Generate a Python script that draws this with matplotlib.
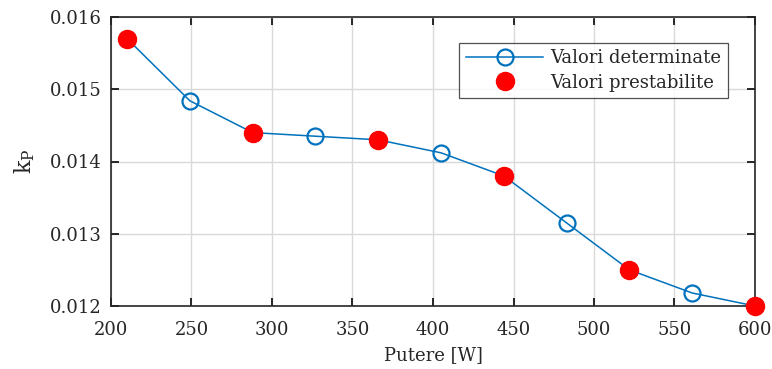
import matplotlib
matplotlib.use("Agg")
import matplotlib.pyplot as plt

# Power levels [W] and identified proportional gain
power = [210, 249, 288, 327, 366, 405, 444, 483, 522, 561, 600]
kp = [0.0157, 0.01484, 0.0144, 0.01435, 0.0143, 0.01412, 0.0138,
      0.01315, 0.0125, 0.01218, 0.0120]

# Preset operating points (subset of the curve)
preset_power = [210, 288, 366, 444, 522, 600]
preset_kp = [0.0157, 0.0144, 0.0143, 0.0138, 0.0125, 0.0120]

xticks = [200, 250, 300, 350, 400, 450, 500, 550, 600]
yticks = [0.012, 0.013, 0.014, 0.015, 0.016]

plt.rcParams['font.family'] = ['DejaVu Serif']
plt.rcParams['mathtext.fontset'] = 'dejavuserif'
txt = '#262626'

fig = plt.figure(figsize=(7.72, 3.69), dpi=100)
ax = fig.add_axes([111/772, 1 - 306/369, (755-111)/772, (306-17)/369])

ax.plot(power, kp, '-o', color='#0072BD', lw=1.1, ms=11.5,
        mfc='none', mec='#0072BD', mew=1.6, label='Valori determinate', zorder=3)
ax.plot(preset_power, preset_kp, 'o', ls='none', color='#FF0000', ms=13,
        mec='#FF0000', label='Valori prestabilite', zorder=4, clip_on=False)

ax.set_xlim(200, 600)
ax.set_ylim(0.012, 0.016)
ax.set_xticks(xticks)
ax.set_yticks(yticks)
ax.set_yticklabels([f'{v:.3f}' for v in yticks])
ax.grid(True, color='#d9d9d9', lw=1.0)
ax.set_axisbelow(True)
ax.tick_params(direction='in', top=True, right=True, length=6, width=1.4,
               labelsize=13, colors=txt, labelcolor=txt)
ax.tick_params(axis='y', pad=7)
ax.tick_params(axis='x', pad=11)
for s in ax.spines.values():
    s.set_color('#262626')
    s.set_linewidth(1.2)

ax.set_xlabel('Putere [W]', fontsize=13, color=txt, labelpad=5)
ax.set_ylabel(r'$\mathregular{k_P}$', fontsize=16, color=txt, labelpad=9)

leg = ax.legend(loc='upper right', bbox_to_anchor=(0.958, 0.91), fontsize=13,
                frameon=True, fancybox=False, edgecolor='#262626',
                handlelength=4.3, borderpad=0.35, labelspacing=0.35,
                handletextpad=0.4, borderaxespad=0)
leg.get_frame().set_linewidth(0.9)
for t in leg.get_texts():
    t.set_color(txt)

fig.savefig('out.png', dpi=100)
